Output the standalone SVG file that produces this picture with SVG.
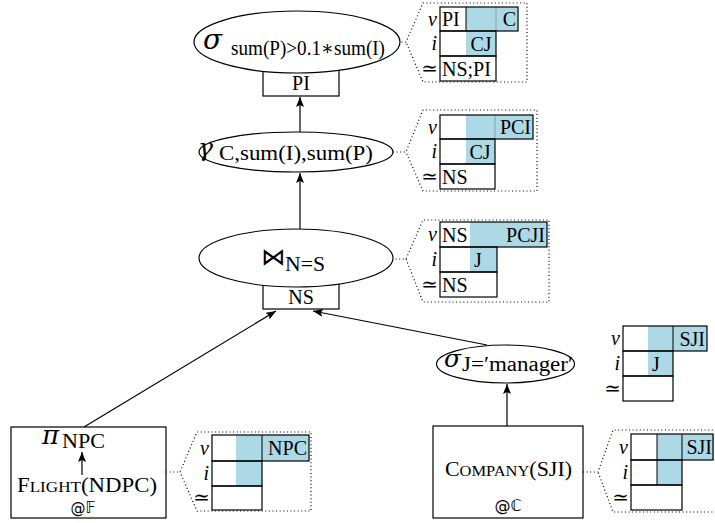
<svg xmlns="http://www.w3.org/2000/svg" width="715" height="523" viewBox="0 0 715 523">
<style>
.bg{fill:#fff}
.nd{fill:#fff;stroke:#000;stroke-width:1.2}
.t{font-family:"Liberation Serif","DejaVu Serif",serif;font-size:20px;fill:#000}
.it{font-style:italic}
.gr{font-family:"DejaVu Serif",serif;font-style:italic;font-size:28px;fill:#000}
.sub{font-family:"Liberation Serif","DejaVu Serif",serif;font-size:20px;fill:#000}
.cell{fill:#fff;stroke:none}
.blue{fill:#add8e6;stroke:none}
.row{fill:none;stroke:#000;stroke-width:1.2}
.sep{stroke:#000;stroke-width:1}
.sepg{stroke:#7fa6b3;stroke-width:1}
.dot{fill:none;stroke:#000;stroke-width:1.2;stroke-dasharray:1 2.6}
.edge{fill:none;stroke:#000;stroke-width:1.2}
.ds{font-family:"DejaVu Sans",sans-serif;font-size:15px;fill:#000}
</style>
<defs>
<marker id="ah" markerUnits="userSpaceOnUse" markerWidth="12" markerHeight="10" refX="10" refY="4" orient="auto">
<path d="M0,0 L10,4 L0,8 L2,4 z" fill="#000"/>
</marker>
</defs>
<rect width="715" height="523" class="bg"/>

<g id="connectors">
<line class="edge" x1="300" y1="132" x2="300" y2="97" marker-end="url(#ah)"/>
<line class="edge" x1="300" y1="229" x2="300" y2="173" marker-end="url(#ah)"/>
<line class="edge" x1="84" y1="427" x2="276" y2="311" marker-end="url(#ah)"/>
<line class="edge" x1="487" y1="345" x2="313" y2="311" marker-end="url(#ah)"/>
<line class="edge" x1="507" y1="426" x2="507" y2="384" marker-end="url(#ah)"/>
<path class="dot" d="M398,42 H406 L423,3 H527 V82 H423 L406,42"/>
<path class="dot" d="M393,152 H406 L423,110 H537 V191 H423 L406,152"/>
<path class="dot" d="M392,259 H406 L423,220 H549 V302 H423 L406,259"/>
<path class="dot" d="M166,472 H180 L197,432 H311 V511 H197 L180,472"/>
<path class="dot" d="M583,472 H598 L613,430 H716 M716,512 H613 L598,472"/>
</g>

<g id="n-sigma-top">
<rect class="nd" x="263" y="66" width="76" height="30"/>
<text class="t" x="301" y="90" text-anchor="middle">PI</text>
<ellipse class="nd" cx="297" cy="42" rx="103" ry="31"/>
<text class="gr" x="203" y="49">σ</text>
<text class="sub" x="231" y="55" textLength="154" lengthAdjust="spacingAndGlyphs">sum(P)&gt;0.1∗sum(I)</text>
</g>

<g id="n-gamma">
<ellipse class="nd" cx="296" cy="152" rx="97" ry="20"/>
<text class="gr" x="198" y="156" style="font-size:25px">γ</text>
<text class="sub" x="219" y="160" textLength="154" lengthAdjust="spacingAndGlyphs">C,sum(I),sum(P)</text>
</g>

<g id="n-join">
<rect class="nd" x="263" y="278" width="76" height="31"/>
<text class="t" x="301" y="304" text-anchor="middle">NS</text>
<ellipse class="nd" cx="296" cy="258" rx="97" ry="29"/>
<text x="261" y="265" style="font-family:'DejaVu Sans',sans-serif;font-size:24px" textLength="24" lengthAdjust="spacingAndGlyphs">⋈</text>
<text class="sub" x="285" y="271" textLength="40" lengthAdjust="spacingAndGlyphs">N=S</text>
</g>

<g id="n-sigma-manager">
<ellipse class="nd" cx="505.5" cy="364" rx="69" ry="19"/>
<text class="gr" x="444" y="367" style="font-size:25px">σ</text>
<text class="sub" x="462" y="371" textLength="111" lengthAdjust="spacingAndGlyphs">J=′manager′</text>
</g>

<g id="n-flight">
<rect class="nd" x="11" y="427" width="155" height="91"/>
<text class="gr" x="42" y="444" style="font-size:26px">π</text>
<text class="sub" x="62" y="448" textLength="43" lengthAdjust="spacingAndGlyphs">NPC</text>
<line class="edge" x1="82" y1="475" x2="82" y2="452" marker-end="url(#ah)"/>
<text class="t" x="17" y="492" textLength="140" lengthAdjust="spacingAndGlyphs">F<tspan style="font-size:15px">LIGHT</tspan>(NDPC)</text>
<text class="ds" x="83" y="513" text-anchor="middle">@𝔽</text>
</g>

<g id="n-company">
<rect class="nd" x="433" y="426" width="150" height="92"/>
<text class="t" x="445" y="476" textLength="127" lengthAdjust="spacingAndGlyphs">C<tspan style="font-size:15px">OMPANY</tspan>(SJI)</text>
<text class="ds" x="508" y="511" text-anchor="middle" style="font-size:16px">@ℂ</text>
</g>

<g id="tab-1">
<rect class="cell" x="440" y="7" width="78" height="74"/>
<rect class="blue" x="466" y="7" width="52" height="24"/>
<rect class="blue" x="466" y="31" width="30" height="25"/>
<line class="sep" x1="466" y1="7" x2="466" y2="31"/>
<line class="sepg" x1="496" y1="7" x2="496" y2="31"/>
<rect class="row" x="440" y="7" width="78" height="24"/>
<rect class="row" x="440" y="31" width="56" height="25"/>
<rect class="row" x="440" y="56" width="56" height="25"/>
<text class="t it" x="437" y="26" text-anchor="end">v</text>
<text class="t it" x="437" y="50" text-anchor="end">i</text>
<text class="t" x="438" y="75" text-anchor="end">≃</text>
<text class="t" x="442" y="26">PI</text>
<text class="t" x="516" y="26" text-anchor="end">C</text>
<text class="t" x="481" y="51" text-anchor="middle">CJ</text>
<text class="t" x="442" y="76">NS;PI</text>
</g>

<g id="tab-2">
<rect class="cell" x="440" y="115" width="93" height="74"/>
<rect class="blue" x="466" y="115" width="67" height="24"/>
<rect class="blue" x="466" y="139" width="29" height="25"/>
<line class="sepg" x1="495" y1="115" x2="495" y2="139"/>
<rect class="row" x="440" y="115" width="93" height="24"/>
<rect class="row" x="440" y="139" width="55" height="25"/>
<rect class="row" x="440" y="164" width="55" height="25"/>
<text class="t it" x="437" y="134" text-anchor="end">v</text>
<text class="t it" x="437" y="158" text-anchor="end">i</text>
<text class="t" x="438" y="183" text-anchor="end">≃</text>
<text class="t" x="531" y="134" text-anchor="end">PCI</text>
<text class="t" x="480" y="159" text-anchor="middle">CJ</text>
<text class="t" x="442" y="184">NS</text>
</g>

<g id="tab-3">
<rect class="cell" x="440" y="222" width="107" height="75"/>
<rect class="blue" x="470" y="222" width="77" height="25"/>
<rect class="blue" x="470" y="247" width="27" height="25"/>
<rect class="row" x="440" y="222" width="107" height="25"/>
<rect class="row" x="440" y="247" width="57" height="25"/>
<rect class="row" x="440" y="272" width="57" height="25"/>
<text class="t it" x="437" y="241" text-anchor="end">v</text>
<text class="t it" x="437" y="266" text-anchor="end">i</text>
<text class="t" x="438" y="291" text-anchor="end">≃</text>
<text class="t" x="442" y="242">NS</text>
<text class="t" x="545" y="242" text-anchor="end">PCJI</text>
<text class="t" x="474" y="267">J</text>
<text class="t" x="442" y="292">NS</text>
</g>

<g id="tab-4">
<rect class="cell" x="623" y="326" width="84" height="75"/>
<rect class="blue" x="648" y="326" width="59" height="25"/>
<rect class="blue" x="648" y="351" width="25" height="25"/>
<line class="sep" x1="673" y1="326" x2="673" y2="351"/>
<rect class="row" x="623" y="326" width="84" height="25"/>
<rect class="row" x="623" y="351" width="50" height="25"/>
<rect class="row" x="623" y="376" width="50" height="25"/>
<text class="t it" x="620" y="345" text-anchor="end">v</text>
<text class="t it" x="620" y="370" text-anchor="end">i</text>
<text class="t" x="621" y="395" text-anchor="end">≃</text>
<text class="t" x="705" y="346" text-anchor="end">SJI</text>
<text class="t" x="652" y="371">J</text>
</g>

<g id="tab-5">
<rect class="cell" x="212" y="435" width="97" height="75"/>
<rect class="blue" x="236" y="435" width="73" height="26"/>
<rect class="blue" x="236" y="461" width="26" height="25"/>
<line class="sep" x1="262" y1="435" x2="262" y2="461"/>
<rect class="row" x="212" y="435" width="97" height="26"/>
<rect class="row" x="212" y="461" width="50" height="25"/>
<rect class="row" x="212" y="486" width="50" height="24"/>
<text class="t it" x="209" y="455" text-anchor="end">v</text>
<text class="t it" x="209" y="480" text-anchor="end">i</text>
<text class="t" x="210" y="504" text-anchor="end">≃</text>
<text class="t" x="307" y="455" text-anchor="end">NPC</text>
</g>

<g id="tab-6">
<rect class="cell" x="631" y="434" width="83" height="76"/>
<rect class="blue" x="657" y="434" width="57" height="26"/>
<rect class="blue" x="657" y="460" width="25" height="25"/>
<line class="sep" x1="657" y1="434" x2="657" y2="485"/>
<line class="sep" x1="682" y1="434" x2="682" y2="460"/>
<rect class="row" x="631" y="434" width="82" height="26"/>
<rect class="row" x="631" y="460" width="51" height="25"/>
<rect class="row" x="631" y="485" width="51" height="25"/>
<text class="t it" x="628" y="454" text-anchor="end">v</text>
<text class="t it" x="628" y="479" text-anchor="end">i</text>
<text class="t" x="629" y="504" text-anchor="end">≃</text>
<text class="t" x="712" y="454" text-anchor="end">SJI</text>
</g>
</svg>
